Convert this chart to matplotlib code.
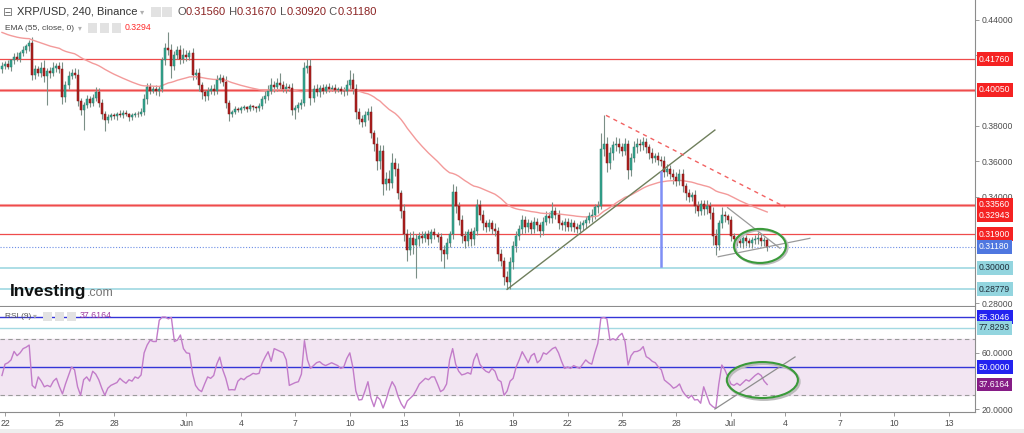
import numpy as np
import matplotlib
matplotlib.use("Agg")
import matplotlib.pyplot as plt
import matplotlib.transforms as mtransforms
from matplotlib.patches import Ellipse, Rectangle
from matplotlib.ticker import FormatStrFormatter, FixedLocator

# ---------------- data (4h candles, prices x 1e-4) ----------------
start_index = -1          # candle index of first close (0 = May 22 00:00)
first_open_e4 = 4120
close_e4 = [
    4140,
    4150, 4135, 4170, 4190, 4180, 4210,
    4230, 4250, 4270, 4090, 4120, 4100,
    4130, 4080, 4110, 4100, 4130, 4140,
    4120, 3965, 4030, 4080, 4100, 4090,
    3940, 3890, 3920, 3950, 3930, 3960,
    3990, 3930, 3870, 3835, 3850, 3860,
    3855, 3870, 3860, 3875, 3865, 3850,
    3860, 3870, 3865, 3880, 3950, 4020,
    4000, 4010, 3995, 4010, 4170, 4240,
    4230, 4140, 4200, 4230, 4180, 4200,
    4190, 4210, 4090, 4100, 4030, 3990,
    3970, 4000, 4010, 4000, 4060, 4070,
    4050, 3930, 3870, 3880, 3895, 3890,
    3900, 3905, 3895, 3910, 3905, 3900,
    3915, 3950, 3970, 4000, 4030, 4020,
    4040, 4030, 4010, 4020, 4015, 3890,
    3900, 3920, 3930, 4130, 4140, 3960,
    4010, 3990, 4015, 4000, 4020, 4010,
    4015, 4005, 4010, 4000, 3995, 4030,
    4060, 4010, 3880, 3840, 3820, 3860,
    3880, 3760, 3700, 3600, 3660, 3470,
    3500, 3480, 3590, 3560, 3420, 3320,
    3190, 3100, 3170, 3130, 3160, 3180,
    3170, 3190, 3160, 3200, 3185, 3175,
    3100, 3080, 3140, 3190, 3430, 3350,
    3270, 3180, 3150, 3200, 3160, 3210,
    3355, 3300, 3250, 3230, 3250, 3220,
    3210, 3080, 3040, 2950, 2920, 3030,
    3120, 3180, 3220, 3270, 3230, 3250,
    3220, 3260, 3240, 3210, 3260, 3290,
    3280, 3320, 3300, 3250, 3240, 3260,
    3230, 3250, 3230, 3220, 3240, 3250,
    3270, 3290, 3300, 3340, 3350, 3670,
    3700, 3590, 3650, 3690, 3700, 3680,
    3660, 3700, 3550, 3620, 3680, 3700,
    3690, 3710, 3680, 3650, 3620, 3630,
    3610, 3600, 3540, 3560, 3530, 3510,
    3490, 3530, 3460, 3420, 3400, 3410,
    3350, 3320, 3360, 3330, 3350, 3310,
    3180, 3130, 3250, 3300, 3290, 3270,
    3180, 3160, 3150, 3140, 3165, 3150,
    3140, 3155, 3160, 3170, 3150, 3156,
    3118,
]
wick_up_e4 = [
    20,
    15, 25, 10, 20, 30, 15,
    20, 15, 15, 30, 25, 20,
    30, 40, 20, 25, 30, 15,
    20, 40, 25, 30, 20, 25,
    30, 20, 15, 25, 20, 20,
    30, 25, 20, 15, 20, 15,
    15, 10, 20, 15, 15, 10,
    15, 10, 15, 20, 30, 25,
    20, 15, 20, 15, 20, 30,
    90, 30, 25, 20, 25, 40,
    30, 20, 30, 20, 25, 20,
    15, 20, 20, 25, 30, 25,
    20, 30, 15, 10, 15, 10,
    10, 15, 10, 15, 10, 10,
    15, 20, 25, 30, 40, 25,
    30, 60, 25, 20, 15, 30,
    20, 15, 20, 30, 40, 40,
    20, 25, 15, 20, 15, 20,
    15, 20, 10, 15, 20, 30,
    55, 40, 25, 20, 20, 25,
    20, 30, 20, 40, 30, 30,
    40, 50, 60, 30, 30, 20,
    40, 30, 30, 40, 30, 20,
    30, 20, 25, 20, 25, 15,
    20, 30, 25, 20, 40, 30,
    20, 30, 25, 20, 25, 20,
    35, 30, 25, 20, 25, 20,
    30, 20, 25, 20, 30, 30,
    30, 25, 20, 30, 20, 25,
    20, 25, 20, 20, 25, 30,
    25, 50, 20, 25, 20, 20,
    20, 25, 20, 20, 25, 20,
    20, 25, 30, 20, 25, 90,
    164, 40, 30, 25, 35, 30,
    25, 30, 20, 30, 35, 30,
    25, 30, 20, 20, 25, 20,
    25, 20, 30, 25, 20, 25,
    30, 25, 30, 20, 25, 20,
    30, 25, 20, 25, 30, 20,
    30, 40, 20, 40, 20, 15,
    20, 15, 20, 20, 15, 20,
    15, 20, 25, 30, 20, 15,
    11,
]
wick_dn_e4 = [
    20,
    20, 15, 25, 20, 15, 20,
    15, 20, 25, 30, 25, 20,
    25, 30, 160, 30, 20, 25,
    20, 40, 30, 20, 15, 20,
    25, 30, 110, 20, 25, 20,
    20, 25, 30, 65, 20, 15,
    15, 20, 10, 15, 10, 20,
    15, 10, 15, 10, 20, 25,
    20, 15, 20, 25, 20, 25,
    30, 70, 25, 20, 30, 25,
    25, 20, 30, 25, 35, 40,
    30, 25, 20, 25, 20, 15,
    25, 30, 40, 20, 15, 10,
    15, 10, 15, 10, 15, 20,
    15, 20, 20, 25, 20, 30,
    20, 25, 20, 25, 15, 30,
    50, 20, 25, 20, 30, 40,
    25, 20, 25, 20, 15, 20,
    15, 20, 15, 20, 25, 20,
    25, 30, 40, 30, 25, 20,
    25, 30, 40, 50, 40, 60,
    30, 40, 30, 40, 30, 40,
    40, 60, 30, 50, 190, 40,
    30, 25, 30, 20, 25, 30,
    60, 80, 30, 25, 30, 40,
    30, 40, 40, 30, 40, 30,
    25, 30, 35, 30, 25, 30,
    30, 40, 30, 50, 42, 40,
    40, 30, 25, 30, 35, 30,
    30, 25, 30, 35, 25, 20,
    25, 30, 25, 30, 25, 30,
    25, 20, 30, 25, 20, 25,
    25, 20, 30, 25, 30, 20,
    40, 50, 30, 40, 30, 35,
    30, 25, 50, 30, 25, 30,
    30, 25, 30, 35, 30, 25,
    30, 25, 30, 25, 30, 35,
    30, 25, 30, 35, 30, 25,
    40, 30, 25, 30, 25, 35,
    50, 60, 30, 25, 30, 25,
    30, 25, 30, 25, 30, 25,
    25, 30, 20, 25, 30, 25,
    26,
]
# RSI(9) per candle
rsi_values = [
    44,
    52, 53, 55, 61, 58, 60,
    63, 64, 65.5, 37, 35, 43,
    40, 36, 37, 36, 40, 42,
    36, 31, 38, 44, 50, 48,
    36, 30, 41, 43, 40, 47,
    45, 41, 35, 30, 35, 37,
    38, 39, 42, 40, 38.5, 41,
    40, 43, 42, 44.4, 60, 65.5,
    69, 68, 68, 83, 85.3, 85.3,
    84, 85, 68, 69, 72.6, 63,
    60, 59.6, 45.5, 37, 34, 32.6,
    38, 43, 42, 44, 52, 57,
    48, 42, 33.8, 34, 33.8, 40,
    42, 41, 43, 44, 45.5, 45,
    45.5, 52.6, 57, 60.8, 54, 63,
    62, 61, 60, 55, 37, 38,
    39, 39.6, 45, 68.6, 55, 49,
    51, 53, 53.8, 52, 51, 52,
    53, 52, 51, 49, 50, 56,
    60, 50, 33, 26.7, 27, 33,
    39.6, 28, 22, 29, 27, 21,
    26.7, 34, 39.6, 36, 29, 24,
    20.8, 26, 28, 30, 33.8, 38,
    40, 42, 41, 43, 43, 38,
    32.6, 34, 38, 55, 63, 52,
    47, 44.4, 45, 46, 45, 55,
    59.6, 52, 49, 47, 46, 49,
    47, 41, 39.6, 30, 33, 40,
    42, 50, 55, 60.8, 57, 53,
    58, 59.6, 53, 55, 60, 59,
    61, 63, 64, 60, 54, 49,
    50, 49, 51, 50, 49, 52,
    55, 53, 52, 60, 66.7, 84.4,
    85, 84, 69, 70, 69, 72,
    73.8, 68, 51.4, 58, 60.8, 61,
    62, 64.4, 57.3, 56, 54, 53,
    50, 48, 40.8, 39, 37.3, 35,
    36, 38, 33, 30, 28, 30,
    26.7, 27, 24.4, 36, 30, 24,
    22, 20.8, 38, 51.4, 48, 43,
    38, 37, 38.5, 37, 39, 41,
    40, 42, 44, 45.5, 44, 40,
    37.6164,
]

ema_len = 55
ema_seed = 0.4335

red_levels = [0.41760, 0.40050, 0.33560, 0.31900]
red_labels = ["0.41760", "0.40050", "0.33560", "0.31900"]
last_price = 0.31180
cyan_levels = [0.30000, 0.28779]
cyan_labels = ["0.30000", "0.28779"]
ema_value_label = 0.32943
legend_ohlc = [("O", "0.31560"), ("H", "0.31670"), ("L", "0.30920"), ("C", "0.31180")]
ema_legend_value = "0.3294"
price_ticks = [0.28, 0.34, 0.36, 0.38, 0.42, 0.44]

rsi_blue_levels = [85.3046, 50.0000]
rsi_cyan_level = 77.8293
rsi_band = [30, 70]
rsi_last_value = 37.6164
rsi_ticks = [20, 60]

day_offsets = [0, 3, 6, 10, 13, 16, 19, 22, 25, 28, 31, 34, 37, 40, 43, 46, 49, 52]
day_labels = ["22", "25", "28", "Jun", "4", "7", "10", "13", "16", "19", "22",
              "25", "28", "Jul", "4", "7", "10", "13"]
candles_per_day = 6

# drawn annotations (candle index, value)
olive_line = [(166.0, 0.2878), (234.7, 0.3777)]
red_dash_line = [(198.7, 0.3860), (258.0, 0.3342)]
blue_vline = [(216.9, 0.3540), (216.9, 0.3010)]
grey_upper = [(238.9, 0.3339), (256.2, 0.3110)]
grey_lower = [(235.8, 0.3062), (266.1, 0.3166)]
price_ellipse = (249.6, 0.3123, 17.2, 0.0192)
rsi_ellipse = (250.4, 40.8, 23.5, 25.4)
rsi_grey_line = [(234.7, 20.3), (261.2, 57.1)]

# ---------------- computations ----------------
c = np.array(close_e4) / 1e4
o = np.concatenate([[first_open_e4 / 1e4], c[:-1]])
hi = np.maximum(o, c) + np.array(wick_up_e4) / 1e4
lo = np.minimum(o, c) - np.array(wick_dn_e4) / 1e4
idx = np.arange(start_index, start_index + len(c))
rsi = np.array(rsi_values)

ema = np.empty_like(c)
a = 2.0 / (ema_len + 1)
prev = ema_seed
for k in range(len(c)):
    prev = prev + a * (c[k] - prev)
    ema[k] = prev

# ---------------- figure ----------------
W, H = 1024, 433
fig = plt.figure(figsize=(W / 100, H / 100), dpi=100)
fig.patch.set_facecolor("white")
FONT = ["Liberation Sans", "DejaVu Sans"]
plt.rcParams["font.family"] = FONT

ax = fig.add_axes([0, 1 - 306 / H, 975 / W, 306 / H])
axr = fig.add_axes([0, 1 - 412 / H, 975 / W, 105 / H], sharex=ax)

ax.set_xlim(-1.65, 320.7)
ax.set_ylim(0.2784, 0.4511)
axr.set_ylim(18.2, 92.4)

for a_ in (ax, axr):
    a_.set_facecolor("white")
    for s in ("left", "top"):
        a_.spines[s].set_visible(False)
    a_.spines["right"].set_color("#8c8c8c")
    a_.spines["bottom"].set_color("#8c8c8c")
    a_.yaxis.tick_right()
    a_.tick_params(axis="y", direction="out", length=3, width=0.6, pad=2,
                   labelsize=6.2, colors="#8c8c8c", labelcolor="#4d4d4d")

ax.yaxis.set_major_locator(FixedLocator(price_ticks))
ax.yaxis.set_major_formatter(FormatStrFormatter("%.5f"))
ax.tick_params(axis="x", bottom=False, labelbottom=False)
axr.yaxis.set_major_locator(FixedLocator(rsi_ticks))
axr.yaxis.set_major_formatter(FormatStrFormatter("%.4f"))
axr.set_xticks([d * candles_per_day for d in day_offsets])
axr.set_xticklabels(day_labels)
axr.tick_params(axis="x", direction="out", length=3, width=0.6, pad=2,
                labelsize=6.2, colors="#8c8c8c", labelcolor="#4d4d4d")

# horizontal levels
for p in red_levels:
    if p in (0.40050, 0.33560):
        ax.axhline(p, color="#f7a8a8", lw=2.2, zorder=1)
    ax.axhline(p, color="#ef4b4b", lw=0.9, zorder=1.1)
ax.axhline(last_price, color="#6d8ee6", lw=0.8, ls=(0, (1, 1.6)), zorder=1.1)
for p in cyan_levels:
    ax.axhline(p, color="#9ed8e1", lw=1.2, zorder=1)

# candles
up = c >= o
dn = ~up
ax.vlines(idx, lo, hi, color="#7b8f86", lw=0.8, zorder=2)
body_h = np.maximum(np.abs(c - o), 0.00025)
ax.bar(idx[up], body_h[up], bottom=np.minimum(o, c)[up], width=0.66,
       color="#33a58f", edgecolor="#2a7c6c", lw=0.35, zorder=3)
ax.bar(idx[dn], body_h[dn], bottom=np.minimum(o, c)[dn], width=0.66,
       color="#b0211f", edgecolor="#7d1414", lw=0.35, zorder=3)

# EMA
ax.plot(idx, ema, color="#f39a9a", lw=1.0, zorder=2.5)

def seg(axis, pts, **kw):
    axis.plot([p[0] for p in pts], [p[1] for p in pts], **kw)

seg(ax, olive_line, color="#6f7f5c", lw=1.0, zorder=4)
seg(ax, red_dash_line, color="#f26262", lw=1.0, ls=(0, (3, 3)), zorder=4)
seg(ax, blue_vline, color="#7f8ff5", lw=1.8, zorder=4)
seg(ax, grey_upper, color="#9a9a9a", lw=0.9, zorder=4)
seg(ax, grey_lower, color="#9a9a9a", lw=0.9, zorder=4)

cx, cy, ew, eh = price_ellipse
ax.add_patch(Ellipse((cx + 0.5, cy - 0.0006), ew, eh, fill=False, ec="#bbbbbb", lw=1.8, zorder=4.5))
ax.add_patch(Ellipse((cx, cy), ew, eh, fill=False, ec="#3a9a3a", lw=1.5, zorder=5))

def axis_box(axis, y, txt, bg, fg):
    tr = mtransforms.blended_transform_factory(axis.transAxes, axis.transData)
    axis.text(1.0 + 4 / 975, y, txt, transform=tr, ha="left", va="center",
              fontsize=6.2, color=fg, clip_on=False, zorder=10,
              bbox=dict(boxstyle="square,pad=0.28", fc=bg, ec=bg, lw=0))

for p, t in zip(red_levels, red_labels):
    axis_box(ax, p, t, "#f52222", "white")
axis_box(ax, ema_value_label, "%.5f" % ema_value_label, "#f52222", "white")
axis_box(ax, last_price, "%.5f" % last_price, "#4f77e0", "white")
for p, t in zip(cyan_levels, cyan_labels):
    axis_box(ax, p, t, "#93d5df", "#1f2d3a")

# RSI pane
axr.axhspan(rsi_band[0], rsi_band[1], color="#f2e5f2", zorder=0)
for v in rsi_band:
    axr.axhline(v, color="#9a9a9a", lw=0.8, ls=(0, (4, 3)), zorder=1)
for v in rsi_blue_levels:
    axr.axhline(v, color="#3434d8", lw=1.0, zorder=1.2)
axr.axhline(rsi_cyan_level, color="#a3d9e2", lw=1.0, zorder=1.2)
axr.plot(idx, rsi, color="#c27cc9", lw=1.0, zorder=3)
seg(axr, rsi_grey_line, color="#8e8e8e", lw=0.9, zorder=4)
rx, ry, rw, rh = rsi_ellipse
axr.add_patch(Ellipse((rx + 0.5, ry - 1.2), rw, rh, fill=False, ec="#bbbbbb", lw=1.8, zorder=4.5))
axr.add_patch(Ellipse((rx, ry), rw, rh, fill=False, ec="#3a9a3a", lw=1.5, zorder=5))

axis_box(axr, rsi_blue_levels[0], "%.4f" % rsi_blue_levels[0], "#2323f0", "white")
axis_box(axr, rsi_cyan_level, "%.4f" % rsi_cyan_level, "#93d5df", "#1f2d3a")
axis_box(axr, rsi_blue_levels[1], "%.4f" % rsi_blue_levels[1], "#2323f0", "white")
axis_box(axr, rsi_last_value, "%.4f" % rsi_last_value, "#861c86", "white")

# ---------------- legends / overlays ----------------
def fx(px):
    return px / W

def fy(py):
    return 1 - py / H

def icon(px, py, size=10):
    fig.add_artist(Rectangle((fx(px), fy(py + size / 2)), size / W, size / H,
                             transform=fig.transFigure, fc="#e2e2e2", ec="none", zorder=20))

fig.text(fx(3), fy(12), "\u229f", fontsize=8.5, color="#777777", va="center", ha="left",
         family=["DejaVu Sans"], zorder=21)
fig.text(fx(17), fy(12), "XRP/USD, 240, Binance", fontsize=8.0, color="#333333",
         va="center", ha="left", zorder=21)
fig.text(fx(140), fy(12), "\u25be", fontsize=6, color="#b0b0b0", va="center", ha="left",
         family=["DejaVu Sans"], zorder=21)
icon(151, 12)
icon(162, 12)
t = fig.text(fx(177), fy(12), legend_ohlc[0][0], fontsize=8.0, color="#555555",
             va="center", ha="left", zorder=21)
first = True
for letter, val in legend_ohlc:
    if not first:
        t = ax.annotate(" " + letter, xy=(1, 0), xycoords=t, va="bottom", ha="left",
                        fontsize=8.0, color="#555555", zorder=21, annotation_clip=False)
    first = False
    t = ax.annotate(val, xy=(1, 0), xycoords=t, va="bottom", ha="left",
                    fontsize=8.0, color="#8b2323", zorder=21, annotation_clip=False)

fig.text(fx(5), fy(28), "EMA (55, close, 0)", fontsize=6.0, color="#444444",
         va="center", ha="left", zorder=21)
fig.text(fx(78), fy(28), "\u25be", fontsize=5.5, color="#b0b0b0", va="center", ha="left",
         family=["DejaVu Sans"], zorder=21)
for px in (88, 100, 112):
    icon(px, 28, 9)
fig.text(fx(125), fy(28), ema_legend_value, fontsize=6.3, color="#ff2a2a",
         va="center", ha="left", zorder=21)

fig.text(fx(5), fy(316), "RSI (9)", fontsize=6.0, color="#555555",
         va="center", ha="left", zorder=21)
fig.text(fx(33), fy(316), "\u25be", fontsize=5.5, color="#b0b0b0", va="center", ha="left",
         family=["DejaVu Sans"], zorder=21)
for px in (43, 55, 67):
    icon(px, 316, 9)
fig.text(fx(80), fy(316), "%.4f" % rsi_last_value, fontsize=6.3, color="#a03ca0",
         va="center", ha="left", zorder=21)

tlogo = fig.text(fx(10), fy(296), "Investing", fontsize=12.5, fontweight="bold",
                 color="#111111", va="baseline", ha="left", zorder=21)
ax.annotate(".com", xy=(1, 0), xycoords=tlogo, va="bottom", ha="left", fontsize=9,
            color="#777777", zorder=21, annotation_clip=False)

fig.add_artist(Rectangle((0, 0), 1, 4 / H, transform=fig.transFigure,
                         fc="#eeeeee", ec="none", zorder=0))

fig.savefig("out.png", dpi=100)
